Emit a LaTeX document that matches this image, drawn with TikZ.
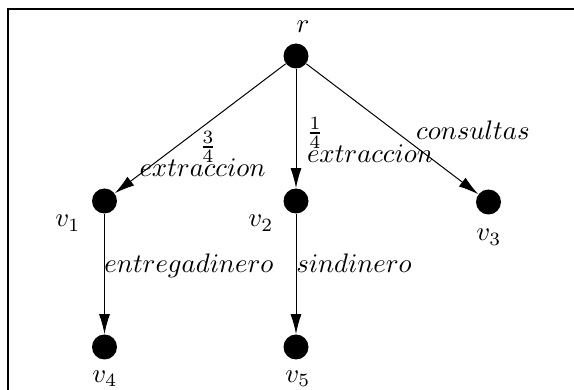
\documentclass[tikz,border=0pt]{standalone}
\usetikzlibrary{arrows.meta}
\begin{document}
\begin{tikzpicture}[x=0.5pt,y=-0.5pt,
  dot/.style={circle,fill=black,inner sep=0pt,minimum size=12.5pt},
  lbl/.style={inner sep=0pt,scale=1.34},
  blbl/.style={inner sep=0pt,scale=1.34,anchor=base},
  edge/.style={line width=0.5pt,-{Latex[length=10pt,width=5.5pt]}}]
\useasboundingbox (0,0) rectangle (574,390);
\clip (0,0) rectangle (574,390);
\draw[line width=1pt] (8,9.5) rectangle (600,420);
\node[dot] (r) at (296,56) {};
\node[dot] (v1) at (104.5,201) {};
\node[dot] (v2) at (296,201) {};
\node[dot] (v3) at (488.5,202) {};
\node[dot] (v4) at (104.5,347) {};
\node[dot] (v5) at (296,347) {};
\node[blbl] (lr) at (303,33) {$r$};
\node[blbl] (l1) at (68,227) {$v_1$};
\node[blbl] (l2) at (261,227) {$v_2$};
\node[blbl] (l3) at (489,241) {$v_3$};
\node[blbl] (l4) at (105,382) {$v_4$};
\node[blbl] (l5) at (298,382) {$v_5$};
\draw[edge] (r) -- (v1);
\draw[edge] (r) -- (v2);
\draw[edge] (r) -- (v3);
\draw[edge] (v1) -- (v4);
\draw[edge] (v2) -- (v5);
\node[lbl] (f1) at (208,147) {$\frac{3}{4}$};
\node[blbl] (e1) at (202.5,177) {$extraccion$};
\node[lbl] (f2) at (315,133) {$\frac{1}{4}$};
\node[blbl] (e2) at (370,163) {$extraccion$};
\node[blbl] (c) at (473,140) {$consultas$};
\node[blbl] (en) at (189,272) {$entregadinero$};
\node[blbl] (sd) at (354,272) {$sindinero$};
\end{tikzpicture}
\end{document}
